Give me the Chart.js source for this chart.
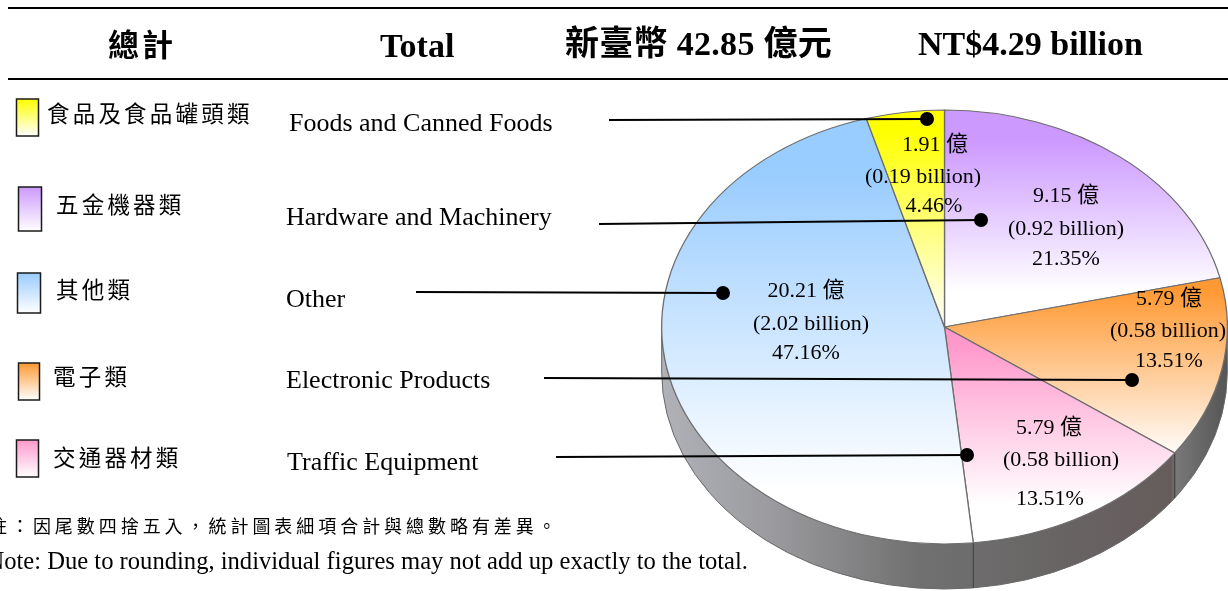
<!DOCTYPE html>
<html>
<head>
<meta charset="utf-8">
<style>
html,body{margin:0;padding:0;background:#fff;overflow:hidden}
#wrap{position:relative;width:1228px;height:591px}
canvas{display:block}
</style>
<script src="https://cdn.jsdelivr.net/npm/chart.js@4/dist/chart.umd.min.js"></script>
</head>
<body>
<div id="wrap"><canvas id="c" width="1228" height="591"></canvas></div>
<script>
// ---- data (clockwise from 12 o'clock) ----
const categoriesZh = ["五金機器類", "電子類", "交通器材類", "其他類", "食品及食品罐頭類"];
const categoriesEn = ["Hardware and Machinery", "Electronic Products", "Traffic Equipment", "Other", "Foods and Canned Foods"];
const valuesYi = [9.15, 5.79, 5.79, 20.21, 1.91];
const valueLabels = ["9.15 億", "5.79 億", "5.79 億", "20.21 億", "1.91 億"];
const billionLabels = ["(0.92 billion)", "(0.58 billion)", "(0.58 billion)", "(2.02 billion)", "(0.19 billion)"];
const percentLabels = ["21.35%", "13.51%", "13.51%", "47.16%", "4.46%"];
const titleTexts = ["總計", "Total", "新臺幣 42.85 億元", "NT$4.29 billion"];
const noteZh = "註：因尾數四捨五入，統計圖表細項合計與總數略有差異。";
const noteEn = "Note: Due to rounding, individual figures may not add up exactly to the total.";

// ---- styles and layout ----
const sliceColors = ["#CC99FF", "#FF9933", "#FF99CC", "#99CCFF", "#FFFF00"];
const gradSpans = [[140, 292], [290, 458], [345, 505], [170, 490], [130, 330]];
const SERIF = '"Liberation Serif","Noto Sans CJK TC",serif';
const CJK = '"Noto Sans CJK TC","Liberation Serif",serif';
const CY = 327, RY = 217, CHART_CY = 295.5, OUTER = 283, DEPTH = 45;
const K = RY / OUTER;
const toChartY = y => CHART_CY + (y - CY) / K;

// x,y,w,h swatch; CJK label x,y; English label x,y
const legendRows = [
  {i:4, box:[16.5, 99, 22, 37],  zh:[47, 113],  en:[289, 124]},
  {i:0, box:[18.5, 187, 23, 44], zh:[56, 204],  en:[286, 218]},
  {i:3, box:[17.5, 273, 23, 40], zh:[56, 289],  en:[286, 300]},
  {i:1, box:[18.5, 363, 21, 37], zh:[53, 376],  en:[286, 381]},
  {i:2, box:[16.5, 440, 22, 37], zh:[53, 457],  en:[287, 463]}
];
const leaders = [
  [609, 120, 927, 119],
  [599, 224, 981, 220],
  [416, 292, 723, 293],
  [544, 378, 1132, 380],
  [556, 457, 967, 455]
];
// x centres & mid-lines for the three lines of every slice label
const sliceLabelPos = [
  [[1066,196],[1066,229],[1066,259]],
  [[1169,299],[1168,331],[1169,361]],
  [[1049,428],[1061,460],[1050,499]],
  [[806,291],[811,324],[806,353]],
  [[935,145],[923,177],[934,206]]
];

function sliceFill(ctx){
  const i = ctx.dataIndex;
  const s = gradSpans[i];
  const g = ctx.chart.ctx.createLinearGradient(0, toChartY(s[0]), 0, toChartY(s[1]));
  g.addColorStop(0, sliceColors[i]);
  g.addColorStop(1, "#FFFFFF");
  return g;
}

const squashPlugin = {
  id: "squash",
  beforeDatasetsDraw(chart){
    const c = chart.ctx;
    const arcs = chart.getDatasetMeta(0).data;
    const cx = arcs[0].x, rx = arcs[0].outerRadius;
    // extruded side wall of the pie, derived from the arc angles
    const g = c.createLinearGradient(cx - rx, 0, cx + rx, 0);
    g.addColorStop(0, "#b0b2b8");
    g.addColorStop(0.2, "#9a9a9e");
    g.addColorStop(0.45, "#717171");
    g.addColorStop(0.7, "#686464");
    g.addColorStop(0.9, "#665c5c");
    g.addColorStop(0.91, "#787878");
    g.addColorStop(1, "#555555");
    c.save();
    c.beginPath();
    c.ellipse(cx, CY, rx, RY, 0, 0, Math.PI, false);
    c.ellipse(cx, CY + DEPTH, rx, RY, 0, Math.PI, 0, true);
    c.closePath();
    c.fillStyle = g;
    c.fill();
    c.strokeStyle = "#6a6a6a";
    c.lineWidth = 1;
    c.stroke();
    c.strokeStyle = "#3c3c3c";
    arcs.forEach(a => {
      let t = a.endAngle;
      if (t > 0 && t < Math.PI) {
        const x = cx + rx * Math.cos(t), y = CY + RY * Math.sin(t);
        c.beginPath(); c.moveTo(x, y); c.lineTo(x, y + DEPTH); c.stroke();
      }
    });
    c.restore();
    // flatten the disc into its perspective ellipse
    c.save();
    c.translate(0, CY);
    c.scale(1, K);
    c.translate(0, -CHART_CY);
  },
  afterDatasetsDraw(chart){
    chart.ctx.restore();
  },
  afterDraw(chart){
    const c = chart.ctx;
    c.save();
    c.textBaseline = "middle";
    // rules
    c.strokeStyle = "#000"; c.lineWidth = 2;
    [8, 79].forEach(y => { c.beginPath(); c.moveTo(8, y); c.lineTo(1228, y); c.stroke(); });
    // title
    c.fillStyle = "#000";
    c.textAlign = "left";
    c.font = 'bold 31px ' + CJK; c.letterSpacing = "3px";
    c.fillText(titleTexts[0], 108, 44);
    c.letterSpacing = "0px";
    c.font = 'bold 34px ' + SERIF;
    c.fillText(titleTexts[1], 380, 48);
    c.letterSpacing = "0.3px";
    c.fillText(titleTexts[2], 565, 46);
    c.letterSpacing = "0px";
    c.fillText(titleTexts[3], 918, 46);
    // legend
    legendRows.forEach(r => {
      const [x, y, w, h] = r.box;
      const g = c.createLinearGradient(0, y, 0, y + h);
      g.addColorStop(0, sliceColors[r.i]);
      g.addColorStop(1, "#FFFFFF");
      c.fillStyle = g;
      c.fillRect(x, y, w, h);
      c.strokeStyle = "#1a1a1a"; c.lineWidth = 1.5;
      c.strokeRect(x, y, w, h);
      c.fillStyle = "#000";
      c.font = '22.5px ' + CJK; c.letterSpacing = "3.2px";
      c.fillText(categoriesZh[r.i], r.zh[0], r.zh[1]);
      c.letterSpacing = "0px";
      c.font = '26px ' + SERIF;
      c.fillText(categoriesEn[r.i], r.en[0], r.en[1]);
    });
    // leader lines
    leaders.forEach(l => {
      c.strokeStyle = "#000"; c.lineWidth = 2;
      c.beginPath(); c.moveTo(l[0], l[1]); c.lineTo(l[2], l[3]); c.stroke();
      c.fillStyle = "#000";
      c.beginPath(); c.arc(l[2], l[3], 7, 0, Math.PI * 2); c.fill();
    });
    // slice labels
    c.textAlign = "center";
    c.font = '22px ' + SERIF;
    valuesYi.forEach((v, i) => {
      const p = sliceLabelPos[i];
      [valueLabels[i], billionLabels[i], percentLabels[i]].forEach((t, j) => {
        c.fillText(t, p[j][0], p[j][1]);
      });
    });
    // notes
    c.textAlign = "left";
    c.font = '18px ' + CJK; c.letterSpacing = "3.95px";
    c.fillText(noteZh, -11, 526);
    c.letterSpacing = "0px";
    c.textAlign = "right";
    c.font = '24.6px ' + SERIF;
    c.fillText(noteEn, 748, 563);
    c.restore();
  }
};

new Chart(document.getElementById("c"), {
  type: "pie",
  data: {
    labels: categoriesEn,
    datasets: [{
      data: valuesYi,
      backgroundColor: sliceFill,
      borderColor: "#6e6e6e",
      borderWidth: 1.3,
      clip: false
    }]
  },
  options: {
    responsive: false,
    animation: false,
    layout: {padding: {left: 661, right: 0, top: 0, bottom: 0}},
    plugins: {legend: {display: false}, tooltip: {enabled: false}, title: {display: false}},
    events: []
  },
  plugins: [squashPlugin]
});
</script>
</body>
</html>
